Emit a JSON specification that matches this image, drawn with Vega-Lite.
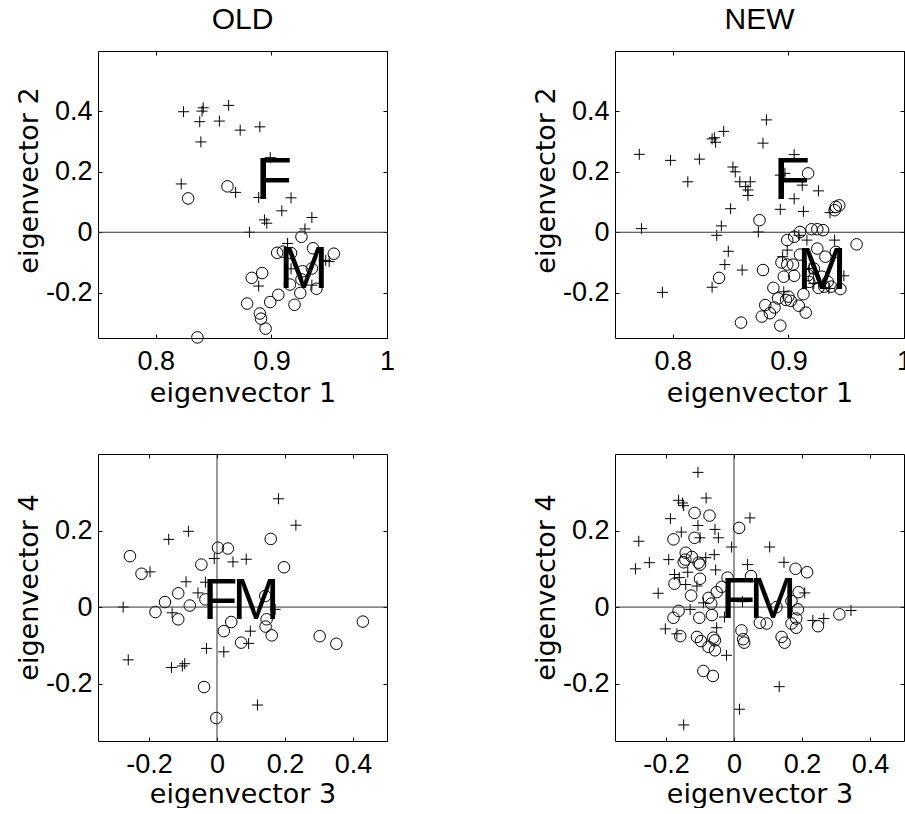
{
  "$schema": "https://vega.github.io/schema/vega-lite/v6.json",
  "background": "white",
  "padding": {"left": 14, "top": 4, "right": 0, "bottom": 0},
  "config": {
    "view": {"stroke": "black", "strokeWidth": 1},
    "axis": {"domain": false, "grid": false, "ticks": true, "tickSize": -4, "tickColor": "black", "tickWidth": 1,
      "labelFont": "Liberation Sans", "labelFontSize": 27, "labelColor": "black", "labelFlush": false, "labelOverlap": false,
      "titleFont": "DejaVu Sans", "titleFontSize": 27, "titleFontWeight": "normal", "titleColor": "black",
      "labelExpr": "toString(datum.value)"},
    "axisBottom": {"labelBaseline": "alphabetic", "labelPadding": 35, "titleBaseline": "alphabetic"},
    "axisLeft": {"labelPadding": 10, "labelBaseline": "middle", "labelAlign": "right", "titleBaseline": "alphabetic", "titleAngle": 270},
    "title": {"font": "Liberation Sans", "fontSize": 30, "fontWeight": "normal", "color": "black", "baseline": "alphabetic", "offset": 16}
  },
  "datasets": {
    "tl": [
      {"s":"F","x":0.824,"y":0.399},{"s":"F","x":0.841,"y":0.412},{"s":"F","x":0.840,"y":0.401},{"s":"F","x":0.863,"y":0.420},
      {"s":"F","x":0.838,"y":0.366},{"s":"F","x":0.855,"y":0.368},{"s":"F","x":0.873,"y":0.338},{"s":"F","x":0.890,"y":0.349},
      {"s":"F","x":0.839,"y":0.299},{"s":"F","x":0.899,"y":0.247},{"s":"F","x":0.822,"y":0.160},{"s":"F","x":0.869,"y":0.132},
      {"s":"F","x":0.889,"y":0.115},{"s":"F","x":0.917,"y":0.114},{"s":"F","x":0.909,"y":0.071},{"s":"F","x":0.935,"y":0.049},
      {"s":"F","x":0.894,"y":0.041},{"s":"F","x":0.896,"y":0.030},{"s":"F","x":0.881,"y":0.000},{"s":"F","x":0.929,"y":0.011},
      {"s":"F","x":0.914,"y":-0.037},{"s":"F","x":0.917,"y":-0.121},{"s":"F","x":0.950,"y":-0.097},{"s":"F","x":0.947,"y":-0.093},
      {"s":"F","x":0.889,"y":-0.178},{"s":"F","x":0.935,"y":-0.175},
      {"s":"M","x":0.828,"y":0.112},{"s":"M","x":0.862,"y":0.152},{"s":"M","x":0.926,"y":-0.015},{"s":"M","x":0.905,"y":-0.068},
      {"s":"M","x":0.910,"y":-0.064},{"s":"M","x":0.917,"y":-0.069},{"s":"M","x":0.936,"y":-0.053},{"s":"M","x":0.954,"y":-0.071},
      {"s":"M","x":0.892,"y":-0.135},{"s":"M","x":0.883,"y":-0.151},{"s":"M","x":0.927,"y":-0.129},{"s":"M","x":0.926,"y":-0.156},
      {"s":"M","x":0.916,"y":-0.173},{"s":"M","x":0.925,"y":-0.201},{"s":"M","x":0.939,"y":-0.187},{"s":"M","x":0.906,"y":-0.207},
      {"s":"M","x":0.899,"y":-0.231},{"s":"M","x":0.879,"y":-0.236},{"s":"M","x":0.920,"y":-0.240},{"s":"M","x":0.890,"y":-0.269},
      {"s":"M","x":0.891,"y":-0.286},{"s":"M","x":0.895,"y":-0.319},{"s":"M","x":0.836,"y":-0.348},{"s":"M","x":0.935,"y":-0.120}
    ],
    "tr": [
      {"s":"F","x":0.771,"y":0.258},{"s":"F","x":0.798,"y":0.238},{"s":"F","x":0.823,"y":0.242},{"s":"F","x":0.813,"y":0.167},
      {"s":"F","x":0.834,"y":0.309},{"s":"F","x":0.836,"y":0.313},{"s":"F","x":0.837,"y":0.298},{"s":"F","x":0.844,"y":0.334},
      {"s":"F","x":0.881,"y":0.372},{"s":"F","x":0.878,"y":0.295},{"s":"F","x":0.905,"y":0.257},{"s":"F","x":0.852,"y":0.216},
      {"s":"F","x":0.854,"y":0.200},{"s":"F","x":0.858,"y":0.167},{"s":"F","x":0.867,"y":0.167},{"s":"F","x":0.863,"y":0.151},
      {"s":"F","x":0.865,"y":0.140},{"s":"F","x":0.893,"y":0.189},{"s":"F","x":0.897,"y":0.195},{"s":"F","x":0.912,"y":0.156},
      {"s":"F","x":0.926,"y":0.137},{"s":"F","x":0.865,"y":0.122},{"s":"F","x":0.905,"y":0.111},{"s":"F","x":0.850,"y":0.078},
      {"s":"F","x":0.893,"y":0.076},{"s":"F","x":0.913,"y":0.069},{"s":"F","x":0.936,"y":0.065},{"s":"F","x":0.773,"y":0.012},
      {"s":"F","x":0.842,"y":0.021},{"s":"F","x":0.838,"y":-0.010},{"s":"F","x":0.874,"y":0.001},{"s":"F","x":0.848,"y":-0.063},
      {"s":"F","x":0.845,"y":-0.107},{"s":"F","x":0.860,"y":-0.125},{"s":"F","x":0.834,"y":-0.182},{"s":"F","x":0.791,"y":-0.199},
      {"s":"F","x":0.940,"y":-0.026},{"s":"F","x":0.948,"y":-0.144},{"s":"F","x":0.899,"y":-0.059},{"s":"F","x":0.895,"y":-0.081},
      {"s":"F","x":0.909,"y":-0.010},{"s":"F","x":0.916,"y":-0.026},{"s":"F","x":0.896,"y":-0.197},{"s":"F","x":0.922,"y":-0.169},
      {"s":"F","x":0.935,"y":-0.186},{"s":"F","x":0.918,"y":-0.120},
      {"s":"M","x":0.917,"y":0.195},{"s":"M","x":0.875,"y":0.040},{"s":"M","x":0.941,"y":0.084},{"s":"M","x":0.944,"y":0.089},
      {"s":"M","x":0.940,"y":0.073},{"s":"M","x":0.959,"y":-0.040},{"s":"M","x":0.910,"y":0.001},{"s":"M","x":0.920,"y":0.010},
      {"s":"M","x":0.925,"y":0.010},{"s":"M","x":0.930,"y":0.007},{"s":"M","x":0.899,"y":-0.026},{"s":"M","x":0.905,"y":-0.015},
      {"s":"M","x":0.925,"y":-0.054},{"s":"M","x":0.941,"y":-0.065},{"s":"M","x":0.932,"y":-0.081},{"s":"M","x":0.910,"y":-0.074},
      {"s":"M","x":0.894,"y":-0.100},{"s":"M","x":0.899,"y":-0.107},{"s":"M","x":0.904,"y":-0.107},{"s":"M","x":0.896,"y":-0.147},
      {"s":"M","x":0.905,"y":-0.144},{"s":"M","x":0.917,"y":-0.142},{"s":"M","x":0.922,"y":-0.153},{"s":"M","x":0.918,"y":-0.164},
      {"s":"M","x":0.929,"y":-0.147},{"s":"M","x":0.934,"y":-0.164},{"s":"M","x":0.937,"y":-0.180},{"s":"M","x":0.931,"y":-0.180},
      {"s":"M","x":0.926,"y":-0.184},{"s":"M","x":0.945,"y":-0.188},{"s":"M","x":0.913,"y":-0.205},{"s":"M","x":0.878,"y":-0.125},
      {"s":"M","x":0.840,"y":-0.151},{"s":"M","x":0.887,"y":-0.184},{"s":"M","x":0.891,"y":-0.219},{"s":"M","x":0.898,"y":-0.224},
      {"s":"M","x":0.902,"y":-0.227},{"s":"M","x":0.900,"y":-0.213},{"s":"M","x":0.880,"y":-0.241},{"s":"M","x":0.888,"y":-0.249},
      {"s":"M","x":0.884,"y":-0.268},{"s":"M","x":0.877,"y":-0.279},{"s":"M","x":0.909,"y":-0.243},{"s":"M","x":0.915,"y":-0.266},
      {"s":"M","x":0.859,"y":-0.299},{"s":"M","x":0.893,"y":-0.309},{"s":"M","x":0.922,"y":-0.120}
    ],
    "bl": [
      {"s":"F","x":0.181,"y":0.283},{"s":"F","x":0.232,"y":0.214},{"s":"F","x":-0.084,"y":0.198},{"s":"F","x":-0.142,"y":0.177},
      {"s":"F","x":-0.008,"y":0.127},{"s":"F","x":0.047,"y":0.118},{"s":"F","x":0.086,"y":0.125},{"s":"F","x":-0.197,"y":0.092},
      {"s":"F","x":-0.091,"y":0.066},{"s":"F","x":-0.034,"y":0.065},{"s":"F","x":-0.056,"y":0.037},{"s":"F","x":-0.276,"y":0.000},
      {"s":"F","x":-0.132,"y":-0.015},{"s":"F","x":0.171,"y":-0.006},{"s":"F","x":0.098,"y":-0.063},{"s":"F","x":0.093,"y":-0.095},
      {"s":"F","x":-0.031,"y":-0.108},{"s":"F","x":0.020,"y":-0.117},{"s":"F","x":-0.261,"y":-0.138},{"s":"F","x":-0.134,"y":-0.158},
      {"s":"F","x":-0.102,"y":-0.154},{"s":"F","x":-0.095,"y":-0.148},{"s":"F","x":0.119,"y":-0.256},
      {"s":"M","x":-0.256,"y":0.133},{"s":"M","x":-0.222,"y":0.087},{"s":"M","x":0.003,"y":0.155},{"s":"M","x":0.032,"y":0.153},
      {"s":"M","x":0.158,"y":0.178},{"s":"M","x":-0.046,"y":0.111},{"s":"M","x":0.197,"y":0.104},{"s":"M","x":-0.114,"y":0.036},
      {"s":"M","x":-0.153,"y":0.013},{"s":"M","x":-0.181,"y":-0.013},{"s":"M","x":-0.114,"y":-0.032},{"s":"M","x":-0.080,"y":0.004},
      {"s":"M","x":-0.034,"y":0.020},{"s":"M","x":0.142,"y":0.029},{"s":"M","x":0.146,"y":-0.032},{"s":"M","x":0.143,"y":-0.051},
      {"s":"M","x":0.161,"y":-0.074},{"s":"M","x":0.042,"y":-0.039},{"s":"M","x":0.020,"y":-0.063},{"s":"M","x":0.071,"y":-0.093},
      {"s":"M","x":0.302,"y":-0.076},{"s":"M","x":0.351,"y":-0.096},{"s":"M","x":0.429,"y":-0.038},{"s":"M","x":-0.038,"y":-0.209},
      {"s":"M","x":-0.002,"y":-0.290}
    ],
    "br": [
      {"s":"F","x":-0.106,"y":0.352},{"s":"F","x":-0.082,"y":0.285},{"s":"F","x":-0.163,"y":0.279},{"s":"F","x":-0.151,"y":0.272},
      {"s":"F","x":-0.148,"y":0.265},{"s":"F","x":-0.187,"y":0.231},{"s":"F","x":0.047,"y":0.233},{"s":"F","x":-0.280,"y":0.172},
      {"s":"F","x":-0.155,"y":0.196},{"s":"F","x":-0.106,"y":0.213},{"s":"F","x":-0.056,"y":0.203},{"s":"F","x":-0.046,"y":0.181},
      {"s":"F","x":-0.100,"y":0.181},{"s":"F","x":-0.007,"y":0.157},{"s":"F","x":0.105,"y":0.157},{"s":"F","x":-0.249,"y":0.116},
      {"s":"F","x":-0.290,"y":0.100},{"s":"F","x":-0.192,"y":0.124},{"s":"F","x":-0.058,"y":0.137},{"s":"F","x":-0.083,"y":0.129},
      {"s":"F","x":-0.054,"y":0.097},{"s":"F","x":-0.136,"y":0.091},{"s":"F","x":-0.175,"y":0.085},{"s":"F","x":-0.161,"y":0.077},
      {"s":"F","x":0.040,"y":0.111},{"s":"F","x":0.147,"y":0.117},{"s":"F","x":-0.142,"y":0.059},{"s":"F","x":-0.109,"y":0.055},
      {"s":"F","x":-0.223,"y":0.036},{"s":"F","x":0.208,"y":0.037},{"s":"F","x":-0.129,"y":-0.006},{"s":"F","x":-0.090,"y":0.011},
      {"s":"F","x":-0.028,"y":-0.026},{"s":"F","x":-0.202,"y":-0.057},{"s":"F","x":-0.168,"y":-0.070},{"s":"F","x":-0.051,"y":-0.054},
      {"s":"F","x":-0.022,"y":-0.126},{"s":"F","x":0.025,"y":0.014},{"s":"F","x":0.232,"y":-0.035},{"s":"F","x":0.264,"y":-0.030},
      {"s":"F","x":0.344,"y":-0.009},{"s":"F","x":0.133,"y":-0.208},{"s":"F","x":0.016,"y":-0.267},{"s":"F","x":-0.148,"y":-0.308},
      {"s":"M","x":-0.116,"y":0.246},{"s":"M","x":-0.072,"y":0.239},{"s":"M","x":0.015,"y":0.207},{"s":"M","x":-0.178,"y":0.177},
      {"s":"M","x":-0.116,"y":0.181},{"s":"M","x":-0.142,"y":0.142},{"s":"M","x":-0.143,"y":0.124},{"s":"M","x":-0.124,"y":0.131},
      {"s":"M","x":-0.104,"y":0.116},{"s":"M","x":-0.100,"y":0.111},{"s":"M","x":-0.148,"y":0.117},{"s":"M","x":0.181,"y":0.100},
      {"s":"M","x":0.215,"y":0.091},{"s":"M","x":-0.100,"y":0.074},{"s":"M","x":-0.175,"y":0.061},{"s":"M","x":-0.019,"y":0.077},
      {"s":"M","x":0.050,"y":0.081},{"s":"M","x":-0.051,"y":0.039},{"s":"M","x":-0.036,"y":0.053},{"s":"M","x":-0.126,"y":0.030},
      {"s":"M","x":-0.075,"y":0.024},{"s":"M","x":0.190,"y":0.039},
      {"s":"M","x":-0.178,"y":-0.028},{"s":"M","x":-0.163,"y":-0.010},{"s":"M","x":-0.102,"y":-0.028},{"s":"M","x":-0.067,"y":0.009},
      {"s":"M","x":-0.065,"y":-0.021},{"s":"M","x":-0.158,"y":-0.076},{"s":"M","x":-0.109,"y":-0.078},{"s":"M","x":-0.097,"y":-0.089},
      {"s":"M","x":-0.075,"y":-0.104},{"s":"M","x":-0.056,"y":-0.113},{"s":"M","x":-0.056,"y":-0.087},{"s":"M","x":-0.061,"y":-0.080},
      {"s":"M","x":-0.090,"y":-0.167},{"s":"M","x":-0.062,"y":-0.180},{"s":"M","x":0.022,"y":-0.061},{"s":"M","x":0.027,"y":-0.084},
      {"s":"M","x":0.030,"y":-0.093},{"s":"M","x":0.076,"y":-0.041},{"s":"M","x":0.096,"y":-0.043},{"s":"M","x":0.125,"y":0.000},
      {"s":"M","x":0.140,"y":-0.078},{"s":"M","x":0.149,"y":-0.093},{"s":"M","x":0.169,"y":0.016},{"s":"M","x":0.188,"y":-0.006},
      {"s":"M","x":0.183,"y":-0.030},{"s":"M","x":0.169,"y":-0.043},{"s":"M","x":0.183,"y":-0.054},{"s":"M","x":0.247,"y":-0.050},
      {"s":"M","x":0.310,"y":-0.019}
    ],
    "lab": [
      {"p":"tl","t":"F","x":0.902,"y":0.171},{"p":"tl","t":"M","x":0.928,"y":-0.126},
      {"p":"tr","t":"F","x":0.903,"y":0.169},{"p":"tr","t":"M","x":0.929,"y":-0.128},
      {"p":"bl","t":"F","x":0.009,"y":0.012},{"p":"bl","t":"M","x":0.115,"y":0.012},
      {"p":"br","t":"F","x":0.012,"y":0.016},{"p":"br","t":"M","x":0.115,"y":0.016}
    ]
  },
  "bounds": "flush",
  "columns": 2,
  "spacing": {"row": 116, "column": 228},
  "concat": [
    {
      "title": {"text": "OLD"},
      "width": 289, "height": 287,
      "data": {"name": "tl"},
      "layer": [
        {"transform": [{"filter": "datum.s === 'F'"}],
         "mark": {"type": "point", "shape": "M-1,0H1M0,-1V1", "size": 121, "filled": false, "color": "black", "strokeWidth": 1, "opacity": 1},
         "encoding": {
           "x": {"field": "x", "type": "quantitative", "scale": {"domain": [0.75, 1], "nice": false, "zero": false},
                 "axis": {"orient": "bottom", "values": [0.8, 0.9, 1], "title": "eigenvector 1", "titleY": 63}},
           "y": {"field": "y", "type": "quantitative", "scale": {"domain": [-0.35, 0.6], "nice": false, "zero": false},
                 "axis": {"orient": "left", "values": [-0.2, 0, 0.2, 0.4], "title": "eigenvector 2", "titleX": -61, "titleY": 129}}}},
        {"transform": [{"filter": "datum.s === 'M'"}],
         "mark": {"type": "point", "shape": "circle", "size": 133, "filled": false, "color": "black", "strokeWidth": 1, "opacity": 1},
         "encoding": {
           "x": {"field": "x", "type": "quantitative", "scale": {"domain": [0.75, 1], "nice": false, "zero": false},
                 "axis": {"orient": "top", "values": [0.8, 0.9, 1], "labels": false, "title": null}},
           "y": {"field": "y", "type": "quantitative", "scale": {"domain": [-0.35, 0.6], "nice": false, "zero": false},
                 "axis": {"orient": "right", "values": [-0.2, 0, 0.2, 0.4], "labels": false, "title": null}}}},
        {"data": {"values": [{"v": 0}]},
         "mark": {"type": "rule", "color": "#333333", "strokeWidth": 1},
         "encoding": {"y": {"field": "v", "type": "quantitative", "scale": {"domain": [-0.35, 0.6], "nice": false, "zero": false}, "axis": null}}},
        {"data": {"name": "lab"}, "transform": [{"filter": "datum.p === 'tl'"}],
         "mark": {"type": "text", "font": "Liberation Sans", "fontSize": 60, "color": "black", "align": "center", "baseline": "middle"},
         "encoding": {
           "text": {"field": "t"},
           "x": {"field": "x", "type": "quantitative", "scale": {"domain": [0.75, 1], "nice": false, "zero": false}, "axis": null},
           "y": {"field": "y", "type": "quantitative", "scale": {"domain": [-0.35, 0.6], "nice": false, "zero": false}, "axis": null}}}
      ],
      "resolve": {"axis": {"x": "independent", "y": "independent"}}
    },
    {
      "title": {"text": "NEW"},
      "width": 289, "height": 287,
      "data": {"name": "tr"},
      "layer": [
        {"transform": [{"filter": "datum.s === 'F'"}],
         "mark": {"type": "point", "shape": "M-1,0H1M0,-1V1", "size": 121, "filled": false, "color": "black", "strokeWidth": 1, "opacity": 1},
         "encoding": {
           "x": {"field": "x", "type": "quantitative", "scale": {"domain": [0.75, 1], "nice": false, "zero": false},
                 "axis": {"orient": "bottom", "values": [0.8, 0.9, 1], "title": "eigenvector 1", "titleY": 63}},
           "y": {"field": "y", "type": "quantitative", "scale": {"domain": [-0.35, 0.6], "nice": false, "zero": false},
                 "axis": {"orient": "left", "values": [-0.2, 0, 0.2, 0.4], "title": "eigenvector 2", "titleX": -61, "titleY": 129}}}},
        {"transform": [{"filter": "datum.s === 'M'"}],
         "mark": {"type": "point", "shape": "circle", "size": 133, "filled": false, "color": "black", "strokeWidth": 1, "opacity": 1},
         "encoding": {
           "x": {"field": "x", "type": "quantitative", "scale": {"domain": [0.75, 1], "nice": false, "zero": false},
                 "axis": {"orient": "top", "values": [0.8, 0.9, 1], "labels": false, "title": null}},
           "y": {"field": "y", "type": "quantitative", "scale": {"domain": [-0.35, 0.6], "nice": false, "zero": false},
                 "axis": {"orient": "right", "values": [-0.2, 0, 0.2, 0.4], "labels": false, "title": null}}}},
        {"data": {"values": [{"v": 0}]},
         "mark": {"type": "rule", "color": "#333333", "strokeWidth": 1},
         "encoding": {"y": {"field": "v", "type": "quantitative", "scale": {"domain": [-0.35, 0.6], "nice": false, "zero": false}, "axis": null}}},
        {"data": {"name": "lab"}, "transform": [{"filter": "datum.p === 'tr'"}],
         "mark": {"type": "text", "font": "Liberation Sans", "fontSize": 60, "color": "black", "align": "center", "baseline": "middle"},
         "encoding": {
           "text": {"field": "t"},
           "x": {"field": "x", "type": "quantitative", "scale": {"domain": [0.75, 1], "nice": false, "zero": false}, "axis": null},
           "y": {"field": "y", "type": "quantitative", "scale": {"domain": [-0.35, 0.6], "nice": false, "zero": false}, "axis": null}}}
      ],
      "resolve": {"axis": {"x": "independent", "y": "independent"}}
    },
    {
      "width": 289, "height": 287,
      "data": {"name": "bl"},
      "layer": [
        {"transform": [{"filter": "datum.s === 'F'"}],
         "mark": {"type": "point", "shape": "M-1,0H1M0,-1V1", "size": 121, "filled": false, "color": "black", "strokeWidth": 1, "opacity": 1},
         "encoding": {
           "x": {"field": "x", "type": "quantitative", "scale": {"domain": [-0.35, 0.5], "nice": false, "zero": false},
                 "axis": {"orient": "bottom", "values": [-0.2, 0, 0.2, 0.4], "title": "eigenvector 3", "titleY": 61}},
           "y": {"field": "y", "type": "quantitative", "scale": {"domain": [-0.35, 0.4], "nice": false, "zero": false},
                 "axis": {"orient": "left", "values": [-0.2, 0, 0.2], "title": "eigenvector 4", "titleX": -61, "titleY": 133}}}},
        {"transform": [{"filter": "datum.s === 'M'"}],
         "mark": {"type": "point", "shape": "circle", "size": 133, "filled": false, "color": "black", "strokeWidth": 1, "opacity": 1},
         "encoding": {
           "x": {"field": "x", "type": "quantitative", "scale": {"domain": [-0.35, 0.5], "nice": false, "zero": false},
                 "axis": {"orient": "top", "values": [-0.2, 0, 0.2, 0.4], "labels": false, "title": null}},
           "y": {"field": "y", "type": "quantitative", "scale": {"domain": [-0.35, 0.4], "nice": false, "zero": false},
                 "axis": {"orient": "right", "values": [-0.2, 0, 0.2], "labels": false, "title": null}}}},
        {"data": {"values": [{"v": 0}]},
         "mark": {"type": "rule", "color": "#333333", "strokeWidth": 1},
         "encoding": {"y": {"field": "v", "type": "quantitative", "scale": {"domain": [-0.35, 0.4], "nice": false, "zero": false}, "axis": null}}},
        {"data": {"values": [{"v": 0}]},
         "mark": {"type": "rule", "color": "#333333", "strokeWidth": 1},
         "encoding": {"x": {"field": "v", "type": "quantitative", "scale": {"domain": [-0.35, 0.5], "nice": false, "zero": false}, "axis": null}}},
        {"data": {"name": "lab"}, "transform": [{"filter": "datum.p === 'bl'"}],
         "mark": {"type": "text", "font": "Liberation Sans", "fontSize": 57, "color": "black", "align": "center", "baseline": "middle"},
         "encoding": {
           "text": {"field": "t"},
           "x": {"field": "x", "type": "quantitative", "scale": {"domain": [-0.35, 0.5], "nice": false, "zero": false}, "axis": null},
           "y": {"field": "y", "type": "quantitative", "scale": {"domain": [-0.35, 0.4], "nice": false, "zero": false}, "axis": null}}}
      ],
      "resolve": {"axis": {"x": "independent", "y": "independent"}}
    },
    {
      "width": 289, "height": 287,
      "data": {"name": "br"},
      "layer": [
        {"transform": [{"filter": "datum.s === 'F'"}],
         "mark": {"type": "point", "shape": "M-1,0H1M0,-1V1", "size": 121, "filled": false, "color": "black", "strokeWidth": 1, "opacity": 1},
         "encoding": {
           "x": {"field": "x", "type": "quantitative", "scale": {"domain": [-0.35, 0.5], "nice": false, "zero": false},
                 "axis": {"orient": "bottom", "values": [-0.2, 0, 0.2, 0.4], "title": "eigenvector 3", "titleY": 61}},
           "y": {"field": "y", "type": "quantitative", "scale": {"domain": [-0.35, 0.4], "nice": false, "zero": false},
                 "axis": {"orient": "left", "values": [-0.2, 0, 0.2], "title": "eigenvector 4", "titleX": -61, "titleY": 133}}}},
        {"transform": [{"filter": "datum.s === 'M'"}],
         "mark": {"type": "point", "shape": "circle", "size": 133, "filled": false, "color": "black", "strokeWidth": 1, "opacity": 1},
         "encoding": {
           "x": {"field": "x", "type": "quantitative", "scale": {"domain": [-0.35, 0.5], "nice": false, "zero": false},
                 "axis": {"orient": "top", "values": [-0.2, 0, 0.2, 0.4], "labels": false, "title": null}},
           "y": {"field": "y", "type": "quantitative", "scale": {"domain": [-0.35, 0.4], "nice": false, "zero": false},
                 "axis": {"orient": "right", "values": [-0.2, 0, 0.2], "labels": false, "title": null}}}},
        {"data": {"values": [{"v": 0}]},
         "mark": {"type": "rule", "color": "#333333", "strokeWidth": 1},
         "encoding": {"y": {"field": "v", "type": "quantitative", "scale": {"domain": [-0.35, 0.4], "nice": false, "zero": false}, "axis": null}}},
        {"data": {"values": [{"v": 0}]},
         "mark": {"type": "rule", "color": "#333333", "strokeWidth": 1},
         "encoding": {"x": {"field": "v", "type": "quantitative", "scale": {"domain": [-0.35, 0.5], "nice": false, "zero": false}, "axis": null}}},
        {"data": {"name": "lab"}, "transform": [{"filter": "datum.p === 'br'"}],
         "mark": {"type": "text", "font": "Liberation Sans", "fontSize": 57, "color": "black", "align": "center", "baseline": "middle"},
         "encoding": {
           "text": {"field": "t"},
           "x": {"field": "x", "type": "quantitative", "scale": {"domain": [-0.35, 0.5], "nice": false, "zero": false}, "axis": null},
           "y": {"field": "y", "type": "quantitative", "scale": {"domain": [-0.35, 0.4], "nice": false, "zero": false}, "axis": null}}}
      ],
      "resolve": {"axis": {"x": "independent", "y": "independent"}}
    }
  ]
}
